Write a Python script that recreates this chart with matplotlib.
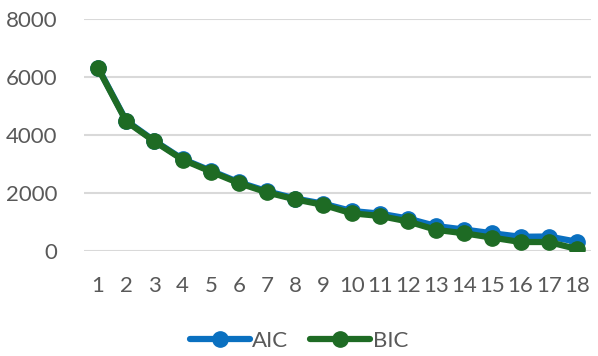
import matplotlib
matplotlib.use("Agg")
import matplotlib.pyplot as plt

x = list(range(1, 19))
aic = [6320, 4490, 3800, 3170, 2770, 2370, 2060, 1810, 1630, 1380, 1290, 1120, 860, 740, 610, 490, 500, 320]
bic = [6300, 4470, 3780, 3150, 2740, 2340, 2020, 1780, 1590, 1300, 1210, 1020, 730, 610, 460, 310, 310, 70]
yticks = [0, 2000, 4000, 6000, 8000]

plt.rcParams['font.family'] = ['Lato', 'DejaVu Sans']
fig = plt.figure(figsize=(5.98, 3.56), dpi=100)
ax = fig.add_axes([84/598, 1-251/356, (591-84)/598, (251-19)/356])

ax.plot(x, aic, color='#0A70C0', lw=4.5, marker='o', ms=11, label='AIC', solid_capstyle='round', zorder=3)
ax.plot(x, bic, color='#1E6B24', lw=4.5, marker='o', ms=11, label='BIC', solid_capstyle='round', zorder=4)

ax.set_xlim(0.5, 18.5)
ax.set_ylim(0, 8000)
ax.set_yticks(yticks)
ax.set_xticks(x)
ax.set_xticklabels([str(v) for v in x])
ax.grid(axis='y', color='#D9D9D9', lw=1.5)
ax.set_axisbelow(True)
for s in ax.spines.values():
    s.set_visible(False)
ax.tick_params(length=0, labelsize=16, labelcolor='#595959')
ax.tick_params(axis='x', pad=18)
ax.tick_params(axis='y', pad=19)

leg = fig.legend(loc='center', bbox_to_anchor=(0.5, 1-341/356), ncol=2, frameon=False,
                 fontsize=16, labelcolor='#595959', handlelength=2.7, handletextpad=0.1, columnspacing=1.0)
fig.savefig('out.png', dpi=100)
